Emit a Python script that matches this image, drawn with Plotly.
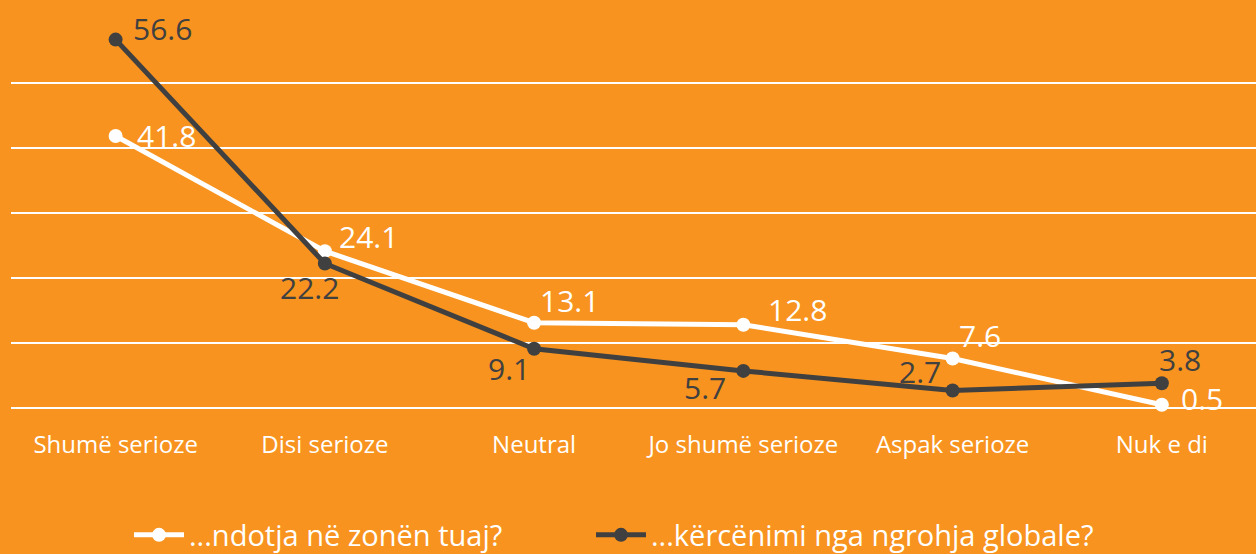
import plotly.graph_objects as go

categories = ["Shumë serioze", "Disi serioze", "Neutral", "Jo shumë serioze", "Aspak serioze", "Nuk e di"]
series1_name = "...ndotja në zonën tuaj?"
series1_values = [41.8, 24.1, 13.1, 12.8, 7.6, 0.5]
series2_name = "...kërcënimi nga ngrohja globale?"
series2_values = [56.6, 22.2, 9.1, 5.7, 2.7, 3.8]

BG = "#F7931E"
DARK = "#404041"
WHITE = "#FFFFFF"
FONT = "Open Sans"

# label offsets (px) relative to each point: (dx, dy) with dy positive = up
offsets1 = [(51, 0), (44, 15), (35, 22), (54, 15), (27, 23), (40, 6)]
offsets2 = [(47, 11), (-15, -24), (-25, -20), (-38, -17), (-33, 19), (18, 24)]

fig = go.Figure()
fig.add_trace(go.Scatter(
    x=categories, y=series1_values, name=series1_name,
    mode="lines+markers", legend="legend",
    line=dict(color=WHITE, width=5),
    marker=dict(color=WHITE, size=14),
    cliponaxis=False,
))
fig.add_trace(go.Scatter(
    x=categories, y=series2_values, name=series2_name,
    mode="lines+markers", legend="legend2",
    line=dict(color=DARK, width=5),
    marker=dict(color=DARK, size=14),
    cliponaxis=False,
))

annotations = []
for vals, offs, col in ((series1_values, offsets1, WHITE), (series2_values, offsets2, DARK)):
    for c, v, (dx, dy) in zip(categories, vals, offs):
        annotations.append(dict(
            x=c, y=v, xref="x", yref="y", text=f"{v}", showarrow=False,
            xanchor="center", yanchor="middle", xshift=dx, yshift=dy,
            font=dict(color=col, size=30, family=FONT),
        ))

legend_common = dict(orientation="h", xref="container", yref="container",
                     xanchor="left", y=1 - 535 / 554, yanchor="middle", itemwidth=50,
                     font=dict(size=29, color=WHITE, family=FONT), bgcolor="rgba(0,0,0,0)")

fig.update_layout(
    width=1256, height=554,
    paper_bgcolor=BG, plot_bgcolor=BG,
    margin=dict(l=11, r=0, t=24, b=146, autoexpand=False),
    font=dict(family=FONT, color=WHITE),
    showlegend=True,
    annotations=annotations,
    legend=dict(legend_common, x=(135 - 6) / 1256),
    legend2=dict(legend_common, x=(597 - 6) / 1256),
    xaxis=dict(range=[-0.5, 5.45], showgrid=False, zeroline=False, showline=False,
               tickfont=dict(size=24, color=WHITE, family=FONT), ticks="",
               ticklabelstandoff=20),
    yaxis=dict(range=[0, 59], dtick=10, showgrid=True, gridcolor=WHITE, gridwidth=2,
               zeroline=True, zerolinecolor=WHITE, zerolinewidth=2,
               showticklabels=False, ticks=""),
)

fig.write_html("out.html", config={"displayModeBar": False},
               post_script="document.body.style.margin='0px';")
